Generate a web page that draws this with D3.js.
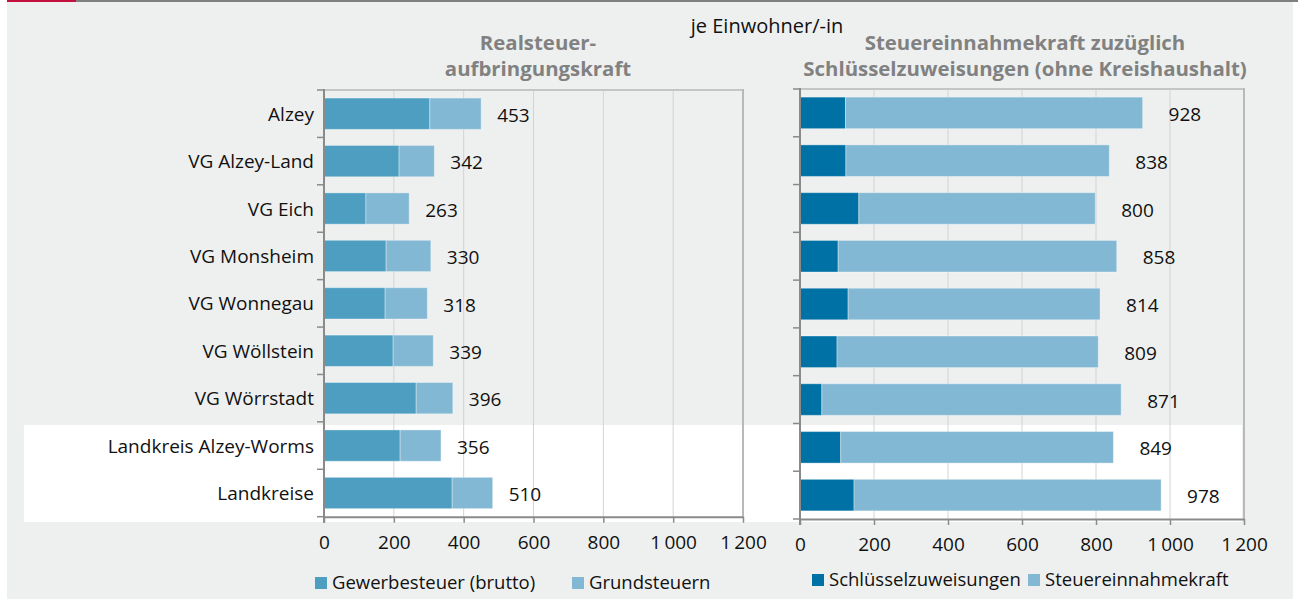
<!DOCTYPE html>
<html>
<head>
<meta charset="utf-8">
<script src="https://cdn.jsdelivr.net/npm/d3@7"></script>
<style>
  body { margin: 0; background: #fff; }
  svg text { font-family: "Open Sans", "Noto Sans", sans-serif; }
</style>
</head>
<body>
<div id="chart"></div>
<script>
const categories = ["Alzey", "VG Alzey-Land", "VG Eich", "VG Monsheim", "VG Wonnegau",
    "VG Wöllstein", "VG Wörrstadt", "Landkreis Alzey-Worms", "Landkreise"];

// left panel: Realsteueraufbringungskraft
const gewerbesteuer = [303, 215, 120, 178, 175, 198, 264, 218, 367];
const grundsteuern = [147, 101, 124, 128, 121, 115, 105, 117, 116];
const realsteuerLabels = [453, 342, 263, 330, 318, 339, 396, 356, 510];

// right panel: Steuereinnahmekraft + Schlüsselzuweisungen
const schluesselzuweisungen = [123, 124, 159, 103, 130, 100, 59, 110, 146];
const steuereinnahmekraft = [803, 712, 639, 753, 681, 706, 809, 737, 830];
const steuerLabels = [928, 838, 800, 858, 814, 809, 871, 849, 978];

const xTicks = [0, 200, 400, 600, 800, 1000, 1200];

const deLocale = d3.formatLocale({ decimal: ",", thousands: "\u2009", grouping: [3], currency: ["", " €"] });
const fmt = deLocale.format(",");

const W = 1298, H = 599;
const svg = d3.select("#chart").append("svg")
    .attr("width", W)
    .attr("height", H);

// page background + top rule
svg.append("rect").attr("x", 7).attr("y", 0).attr("width", 1286).attr("height", H).attr("fill", "#eef0ef");
svg.append("rect").attr("x", 7).attr("y", 0).attr("width", 69).attr("height", 2).attr("fill", "#c4103f");
svg.append("rect").attr("x", 76).attr("y", 0).attr("width", W - 76).attr("height", 2).attr("fill", "#808080");

// white band behind the Landkreis rows
svg.append("rect").attr("x", 24).attr("y", 425).attr("width", 1218).attr("height", 97).attr("fill", "#ffffff");

function drawPanel(opt) {
    const x = d3.scaleLinear().domain([0, 1200]).range(opt.xRange);
    const y = d3.scaleBand().domain(categories).range(opt.yRange)
        .paddingInner(0.34).paddingOuter(0.17);
    const g = svg.append("g");
    const [y0, y1] = opt.yRange;

    // gridlines
    g.selectAll(".grid")
        .data(xTicks.slice(1, -1))
        .enter().append("line")
        .attr("x1", d => x(d)).attr("x2", d => x(d))
        .attr("y1", y0).attr("y2", y1)
        .attr("stroke", "#d2d4d3").attr("stroke-width", 1);

    // frame top and right
    g.append("line").attr("x1", x(0)).attr("x2", x(1200)).attr("y1", y0).attr("y2", y0)
        .attr("stroke", "#c4c6c5").attr("stroke-width", 2);
    g.append("line").attr("x1", x(1200)).attr("x2", x(1200)).attr("y1", y0 - 1).attr("y2", y1)
        .attr("stroke", "#b8bab9").attr("stroke-width", 2);

    // stacked bars
    const rows = categories.map((c, i) => ({ cat: c, a: opt.first[i], b: opt.second[i], label: opt.labels[i] }));
    g.selectAll(".barA").data(rows).enter().append("rect")
        .attr("x", x(0))
        .attr("y", d => y(d.cat))
        .attr("width", d => x(d.a) - x(0))
        .attr("height", y.bandwidth())
        .attr("fill", opt.colors[0])
        .attr("stroke", "rgba(255,255,255,0.35)").attr("stroke-width", 1);
    g.selectAll(".barB").data(rows).enter().append("rect")
        .attr("x", d => x(d.a))
        .attr("y", d => y(d.cat))
        .attr("width", d => x(d.a + d.b) - x(d.a))
        .attr("height", y.bandwidth())
        .attr("fill", opt.colors[1])
        .attr("stroke", "rgba(255,255,255,0.35)").attr("stroke-width", 1);

    // value labels
    g.selectAll(".val").data(rows).enter().append("text")
        .attr("x", d => x(d.a + d.b) + opt.labelGap)
        .attr("y", d => y(d.cat) + y.bandwidth() / 2 + 1.5)
        .attr("dy", "0.35em")
        .style("font-size", "19px")
        .attr("fill", "#111")
        .text(d => d.label);

    // category boundary ticks
    const bounds = categories.map(c => y(c) - y.step() * y.paddingInner() / 2);
    bounds.push(y1);
    g.selectAll(".ytick").data(bounds).enter().append("line")
        .attr("x1", x(0) - 7).attr("x2", x(0))
        .attr("y1", d => d).attr("y2", d => d)
        .attr("stroke", "#8a8a8a").attr("stroke-width", 1.5);

    if (opt.showCategories) {
        g.append("g")
            .attr("transform", "translate(" + (x(0) - 10) + ",1)")
            .call(d3.axisLeft(y).tickSize(0).tickPadding(0))
            .call(a => a.select(".domain").remove())
            .selectAll("text")
            .style("font-size", "19px")
            .attr("fill", "#111");
    }

    // x axis
    const ax = g.append("g")
        .attr("transform", "translate(0," + y1 + ")")
        .call(d3.axisBottom(x).tickValues(xTicks).tickSize(6).tickSizeOuter(0).tickPadding(13).tickFormat(fmt));
    ax.select(".domain").attr("stroke", "#8a8a8a").attr("stroke-width", 2);
    ax.selectAll(".tick line").attr("stroke", "#8a8a8a").attr("stroke-width", 1.5);
    ax.selectAll("text").style("font-size", "19px").attr("fill", "#111");

    // y axis line
    g.append("line").attr("x1", x(0)).attr("x2", x(0)).attr("y1", y0 - 1).attr("y2", y1 + 6)
        .attr("stroke", "#8a8a8a").attr("stroke-width", 2);

    // panel title
    g.selectAll(".title").data(opt.title).enter().append("text")
        .attr("x", opt.titleX)
        .attr("y", (d, i) => 50 + i * 26)
        .attr("text-anchor", "middle")
        .style("font-size", "20.4px")
        .style("font-weight", "bold")
        .attr("fill", "#818181")
        .text(d => d);

    // legend
    const lg = g.selectAll(".legend").data(opt.legend).enter().append("g")
        .attr("transform", d => "translate(" + d.x + "," + opt.legendY + ")");
    lg.append("rect").attr("x", 0).attr("y", -6).attr("width", 12).attr("height", 12)
        .attr("fill", (d, i) => opt.colors[i]);
    lg.append("text").attr("x", 17).attr("y", 0).attr("dy", "0.35em")
        .style("font-size", "18.5px").attr("fill", "#111")
        .text(d => d.name);
}

drawPanel({
    xRange: [324, 743],
    yRange: [90, 516.7],
    first: gewerbesteuer,
    second: grundsteuern,
    labels: realsteuerLabels,
    colors: ["#4d9ec1", "#83b8d4"],
    labelGap: 16,
    showCategories: true,
    title: ["Realsteuer-", "aufbringungskraft"],
    titleX: 538,
    legendY: 583,
    legend: [{ name: "Gewerbesteuer (brutto)", x: 315 }, { name: "Grundsteuern", x: 572 }]
});

drawPanel({
    xRange: [800, 1244],
    yRange: [89, 519],
    first: schluesselzuweisungen,
    second: steuereinnahmekraft,
    labels: steuerLabels,
    colors: ["#0071a4", "#83b8d4"],
    labelGap: 26,
    showCategories: false,
    title: ["Steuereinnahmekraft zuzüglich", "Schlüsselzuweisungen (ohne Kreishaushalt)"],
    titleX: 1025,
    legendY: 580,
    legend: [{ name: "Schlüsselzuweisungen", x: 812 }, { name: "Steuereinnahmekraft", x: 1028 }]
});

// unit note
svg.append("text")
    .attr("x", 767).attr("y", 33)
    .attr("text-anchor", "middle")
    .style("font-size", "20px")
    .attr("fill", "#111")
    .text("je Einwohner/-in");
</script>
</body>
</html>
